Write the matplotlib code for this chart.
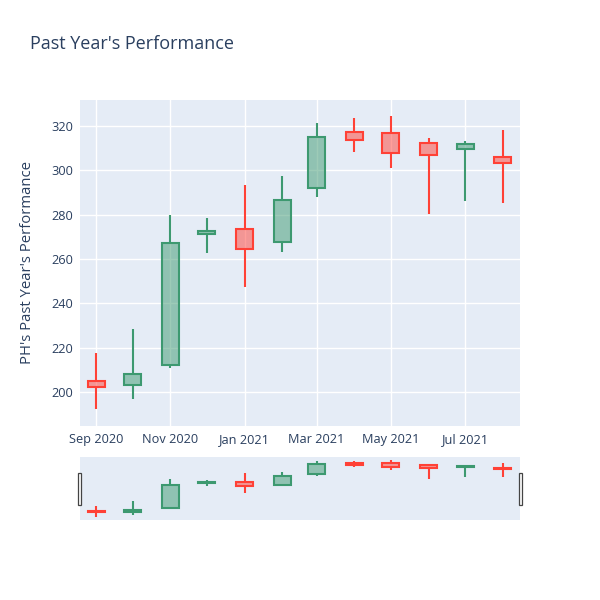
import datetime as dt
import matplotlib
matplotlib.use("Agg")
import matplotlib.pyplot as plt
import matplotlib.dates as mdates
from matplotlib.patches import Rectangle

plt.rcParams['font.family'] = ['Open Sans', 'DejaVu Sans']

months = ["2020-09-01", "2020-10-01", "2020-11-01", "2020-12-01", "2021-01-01", "2021-02-01",
          "2021-03-01", "2021-04-01", "2021-05-01", "2021-06-01", "2021-07-01", "2021-08-01"]
opens = [205.0, 203.2, 212.0, 271.5, 273.4, 267.5, 291.8, 317.4, 317.0, 312.3, 309.5, 306.0]
highs = [217.5, 228.3, 280.0, 278.4, 293.4, 297.4, 321.5, 323.5, 324.5, 314.4, 313.2, 318.2]
lows = [192.2, 196.8, 211.0, 262.9, 247.2, 263.3, 288.1, 308.4, 300.9, 280.3, 286.2, 285.4]
closes = [202.5, 208.3, 267.0, 272.5, 264.6, 286.8, 315.2, 313.5, 308.0, 307.0, 311.8, 303.2]

tick_dates = ["2020-09-01", "2020-11-01", "2021-01-01", "2021-03-01", "2021-05-01", "2021-07-01"]
tick_labels = ["Sep 2020", "Nov 2020", "Jan 2021", "Mar 2021", "May 2021", "Jul 2021"]
yticks = [200, 220, 240, 260, 280, 300, 320]

up_col = "#3D9970"
down_col = "#FF4136"
bg = "#E5ECF6"
txt = "#2a3f5f"

x = mdates.date2num([dt.datetime.fromisoformat(m) for m in months])
xt = mdates.date2num([dt.datetime.fromisoformat(m) for m in tick_dates])
xlim = (x[0] - 13.2, x[-1] + 14)
ylim = (184.7, 331.7)


def draw_candles(ax, lw):
    for xi, o, h, l, c in zip(x, opens, highs, lows, closes):
        col = up_col if c >= o else down_col
        top, bot = max(o, c), min(o, c)
        ax.vlines(xi, top, h, color=col, lw=lw, zorder=3)
        ax.vlines(xi, l, bot, color=col, lw=lw, zorder=3)
        ax.bar(xi, top - bot, bottom=bot, width=14, color=col, alpha=0.5, zorder=3, linewidth=0)
        ax.bar(xi, top - bot, bottom=bot, width=14, facecolor="none", edgecolor=col, lw=lw, zorder=4)


fig = plt.figure(figsize=(6, 6), dpi=100)

ax = fig.add_axes([80 / 600, 1 - 426 / 600, 440 / 600, 326 / 600])
ax.set_facecolor(bg)
draw_candles(ax, 1.5)
ax.set_xlim(*xlim)
ax.set_ylim(*ylim)
ax.set_xticks(xt)
ax.set_xticklabels(tick_labels)
ax.set_yticks(yticks)
ax.grid(True, color="white", lw=1, zorder=0)
ax.set_axisbelow(True)
for s in ax.spines.values():
    s.set_visible(False)
ax.tick_params(length=0, labelsize=9.2, labelcolor=txt, pad=5)
ax.tick_params(axis="y", pad=5)

# range slider
rs = fig.add_axes([80 / 600, 1 - 520 / 600, 440 / 600, 63 / 600])
rs.set_facecolor(bg)
draw_candles(rs, 1.5)
rs.set_xlim(*xlim)
rs.set_ylim(*ylim)
rs.set_xticks([])
rs.set_yticks([])
for s in rs.spines.values():
    s.set_visible(False)
for hx in [77.5, 518.5]:
    fig.patches.append(Rectangle((hx / 600, 1 - 505 / 600), 3.5 / 600, 32 / 600,
                                 transform=fig.transFigure, facecolor="white",
                                 edgecolor="#444444", lw=0.9, zorder=5))

fig.text(30 / 600, 1 - 44 / 600, "Past Year's Performance", fontsize=13, color=txt,
         ha="left", va="center")
fig.text(28 / 600, 1 - 262 / 600, "PH's Past Year's Performance", fontsize=10.7, color=txt,
         rotation=90, ha="center", va="center")

fig.savefig("out.png", dpi=100, facecolor="white")
